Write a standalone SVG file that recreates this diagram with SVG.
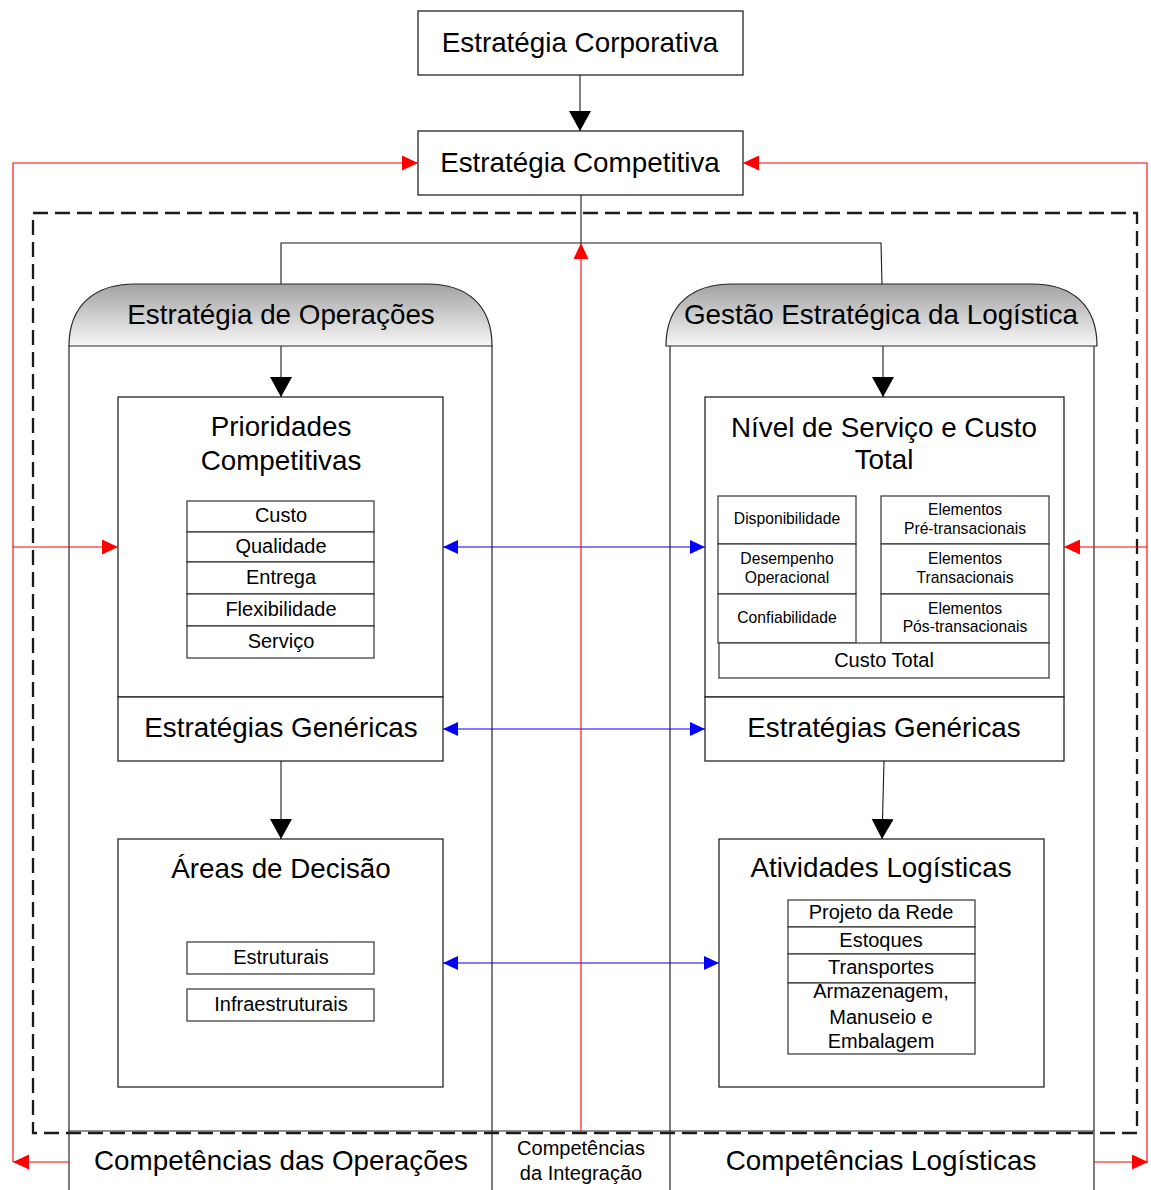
<svg xmlns="http://www.w3.org/2000/svg" width="1151" height="1190" viewBox="0 0 1151 1190">
  <style>
    .box { fill: #ffffff; stroke: #262626; stroke-width: 1.3; }
    .cell { fill: #ffffff; stroke: #333333; stroke-width: 1.2; }
    .line { fill: none; stroke: #262626; stroke-width: 1.2; }
    .blk { fill: none; stroke: #1a1a1a; stroke-width: 1.1; }
    .red { fill: none; stroke: #ff0000; stroke-width: 1.1; }
    .blue { fill: none; stroke: #0000ff; stroke-width: 1.1; }
    text { font-family: "Liberation Sans", Arial, sans-serif; fill: #000000; text-anchor: middle; }
    .big { font-size: 27.8px; }
    .mid { font-size: 20px; }
    .sm { font-size: 15.7px; }
  </style>
  <defs>
    <linearGradient id="hdr" x1="0" y1="0" x2="0" y2="1">
      <stop offset="0" stop-color="#a2a2a2"/>
      <stop offset="1" stop-color="#f7f7f7"/>
    </linearGradient>
    <marker id="ahBlack" markerUnits="userSpaceOnUse" viewBox="0 0 20 22" markerWidth="20" markerHeight="22" refX="20" refY="11" orient="auto">
      <path d="M0,0 L20,11 L0,22 Z" fill="#000000"/>
    </marker>
    <marker id="ahBlue" markerUnits="userSpaceOnUse" viewBox="0 0 15 14" markerWidth="15" markerHeight="14" refX="15" refY="7" orient="auto-start-reverse">
      <path d="M0,0 L15,7 L0,14 Z" fill="#0000ff"/>
    </marker>
    <marker id="ahRed" markerUnits="userSpaceOnUse" viewBox="0 0 16 15" markerWidth="16" markerHeight="15" refX="16" refY="7.5" orient="auto">
      <path d="M0,0 L16,7.5 L0,15 Z" fill="#ff0000"/>
    </marker>
  </defs>

  <rect width="1151" height="1190" fill="#ffffff"/>

  <!-- dashed boundary of the integrated area -->
  <rect id="integration-frame" x="33" y="213" width="1104" height="920" fill="none" stroke="#1a1a1a" stroke-width="2.3" stroke-dasharray="15 7"/>

  <!-- left column: operations strategy -->
  <g id="col-operacoes">
    <path d="M69,346 C69,305 95,284 135,284 L427,284 C467,284 492,305 492,346 Z" fill="url(#hdr)" stroke="#262626" stroke-width="1.2"/>
    <line class="line" x1="69" y1="346" x2="69" y2="1190"/>
    <line class="line" x1="492" y1="346" x2="492" y2="1190"/>
    <text class="big" x="281" y="324">Estratégia de Operações</text>
  </g>

  <!-- right column: logistics strategic management -->
  <g id="col-logistica">
    <path d="M666,346 C666,305 692,284 732,284 L1032,284 C1072,284 1097,305 1097,346 Z" fill="url(#hdr)" stroke="#262626" stroke-width="1.2"/>
    <line class="line" x1="670" y1="346" x2="670" y2="1190"/>
    <line class="line" x1="1094" y1="346" x2="1094" y2="1190"/>
    <text class="big" x="881" y="324">Gestão Estratégica da Logística</text>
  </g>

  <g id="estrategia-corporativa">
    <rect class="box" x="418" y="11" width="325" height="64"/>
    <text class="big" x="580" y="52">Estratégia Corporativa</text>
  </g>

  <g id="estrategia-competitiva">
    <rect class="box" x="418" y="131" width="325" height="64"/>
    <text class="big" x="580" y="172">Estratégia Competitiva</text>
  </g>

  <g id="prioridades-competitivas">
    <rect class="box" x="118" y="397" width="325" height="300"/>
    <text class="big" x="281" y="436">Prioridades</text>
    <text class="big" x="281" y="470">Competitivas</text>
    <rect class="cell" x="187" y="501" width="187" height="31"/>
    <rect class="cell" x="187" y="532" width="187" height="30"/>
    <rect class="cell" x="187" y="562" width="187" height="32"/>
    <rect class="cell" x="187" y="594" width="187" height="32"/>
    <rect class="cell" x="187" y="626" width="187" height="32"/>
    <text class="mid" x="281" y="522">Custo</text>
    <text class="mid" x="281" y="553">Qualidade</text>
    <text class="mid" x="281" y="584">Entrega</text>
    <text class="mid" x="281" y="616">Flexibilidade</text>
    <text class="mid" x="281" y="648">Serviço</text>
  </g>

  <g id="estrategias-genericas-op">
    <rect class="box" x="118" y="697" width="325" height="64"/>
    <text class="big" x="281" y="737">Estratégias Genéricas</text>
  </g>

  <g id="areas-de-decisao">
    <rect class="box" x="118" y="839" width="325" height="248"/>
    <text class="big" x="281" y="878">Áreas de Decisão</text>
    <rect class="cell" x="187" y="942" width="187" height="32"/>
    <rect class="cell" x="187" y="989" width="187" height="32"/>
    <text class="mid" x="281" y="964">Estruturais</text>
    <text class="mid" x="281" y="1011">Infraestruturais</text>
  </g>

  <g id="nivel-servico-custo">
    <rect class="box" x="705" y="397" width="359" height="300"/>
    <text class="big" x="884" y="437">Nível de Serviço e Custo</text>
    <text class="big" x="884" y="469">Total</text>
    <rect class="cell" x="718" y="496" width="138" height="48"/>
    <rect class="cell" x="718" y="544" width="138" height="50"/>
    <rect class="cell" x="718" y="594" width="138" height="49"/>
    <rect class="cell" x="881" y="496" width="168" height="48"/>
    <rect class="cell" x="881" y="544" width="168" height="50"/>
    <rect class="cell" x="881" y="594" width="168" height="49"/>
    <rect class="cell" x="719" y="643" width="330" height="35"/>
    <text class="sm" x="787" y="524">Disponibilidade</text>
    <text class="sm" x="787" y="564">Desempenho</text>
    <text class="sm" x="787" y="583">Operacional</text>
    <text class="sm" x="787" y="623">Confiabilidade</text>
    <text class="sm" x="965" y="515">Elementos</text>
    <text class="sm" x="965" y="534">Pré-transacionais</text>
    <text class="sm" x="965" y="564">Elementos</text>
    <text class="sm" x="965" y="583">Transacionais</text>
    <text class="sm" x="965" y="614">Elementos</text>
    <text class="sm" x="965" y="632">Pós-transacionais</text>
    <text class="mid" x="884" y="667">Custo Total</text>
  </g>

  <g id="estrategias-genericas-log">
    <rect class="box" x="705" y="697" width="359" height="64"/>
    <text class="big" x="884" y="737">Estratégias Genéricas</text>
  </g>

  <g id="atividades-logisticas">
    <rect class="box" x="719" y="839" width="325" height="248"/>
    <text class="big" x="881" y="877">Atividades Logísticas</text>
    <rect class="cell" x="788" y="900" width="187" height="27"/>
    <rect class="cell" x="788" y="927" width="187" height="27"/>
    <rect class="cell" x="788" y="954" width="187" height="29"/>
    <rect class="cell" x="788" y="983" width="187" height="71"/>
    <text class="mid" x="881" y="919">Projeto da Rede</text>
    <text class="mid" x="881" y="947">Estoques</text>
    <text class="mid" x="881" y="974">Transportes</text>
    <text class="mid" x="881" y="998">Armazenagem,</text>
    <text class="mid" x="881" y="1024">Manuseio e</text>
    <text class="mid" x="881" y="1048">Embalagem</text>
  </g>

  <!-- competence strip along the bottom -->
  <g id="competencias">
    <line class="line" x1="69" y1="1131" x2="1094" y2="1131"/>
    <text class="big" x="281" y="1170">Competências das Operações</text>
    <text class="mid" x="581" y="1155">Competências</text>
    <text class="mid" x="581" y="1180">da Integração</text>
    <text class="big" x="881" y="1170">Competências Logísticas</text>
  </g>

  <g id="connectors">
    <!-- hierarchy -->
    <line class="blk" x1="580" y1="75" x2="580" y2="131" marker-end="url(#ahBlack)"/>
    <polyline class="blk" points="581,195 581,243"/>
    <polyline class="blk" points="281,284 281,243 881,243 882,284"/>
    <line class="blk" x1="281" y1="346" x2="281" y2="397" marker-end="url(#ahBlack)"/>
    <line class="blk" x1="883" y1="346" x2="883" y2="397" marker-end="url(#ahBlack)"/>
    <line class="blk" x1="281" y1="761" x2="281" y2="839" marker-end="url(#ahBlack)"/>
    <line class="blk" x1="884" y1="761" x2="882" y2="839" marker-end="url(#ahBlack)"/>

    <!-- two-way links between the columns -->
    <line class="blue" x1="443" y1="547" x2="705" y2="547" marker-start="url(#ahBlue)" marker-end="url(#ahBlue)"/>
    <line class="blue" x1="443" y1="729" x2="705" y2="729" marker-start="url(#ahBlue)" marker-end="url(#ahBlue)"/>
    <line class="blue" x1="443" y1="963" x2="719" y2="963" marker-start="url(#ahBlue)" marker-end="url(#ahBlue)"/>

    <!-- feedback loops -->
    <line class="red" x1="581" y1="1131" x2="581" y2="243" marker-end="url(#ahRed)"/>
    <polyline class="red" points="13,1162 13,163 418,163" marker-end="url(#ahRed)"/>
    <line class="red" x1="13" y1="547" x2="118" y2="547" marker-end="url(#ahRed)"/>
    <line class="red" x1="69" y1="1162" x2="13" y2="1162" marker-end="url(#ahRed)"/>
    <polyline class="red" points="1147,1162 1147,163 743,163" marker-end="url(#ahRed)"/>
    <line class="red" x1="1147" y1="547" x2="1064" y2="547" marker-end="url(#ahRed)"/>
    <line class="red" x1="1094" y1="1162" x2="1148" y2="1162" marker-end="url(#ahRed)"/>
  </g>
</svg>
